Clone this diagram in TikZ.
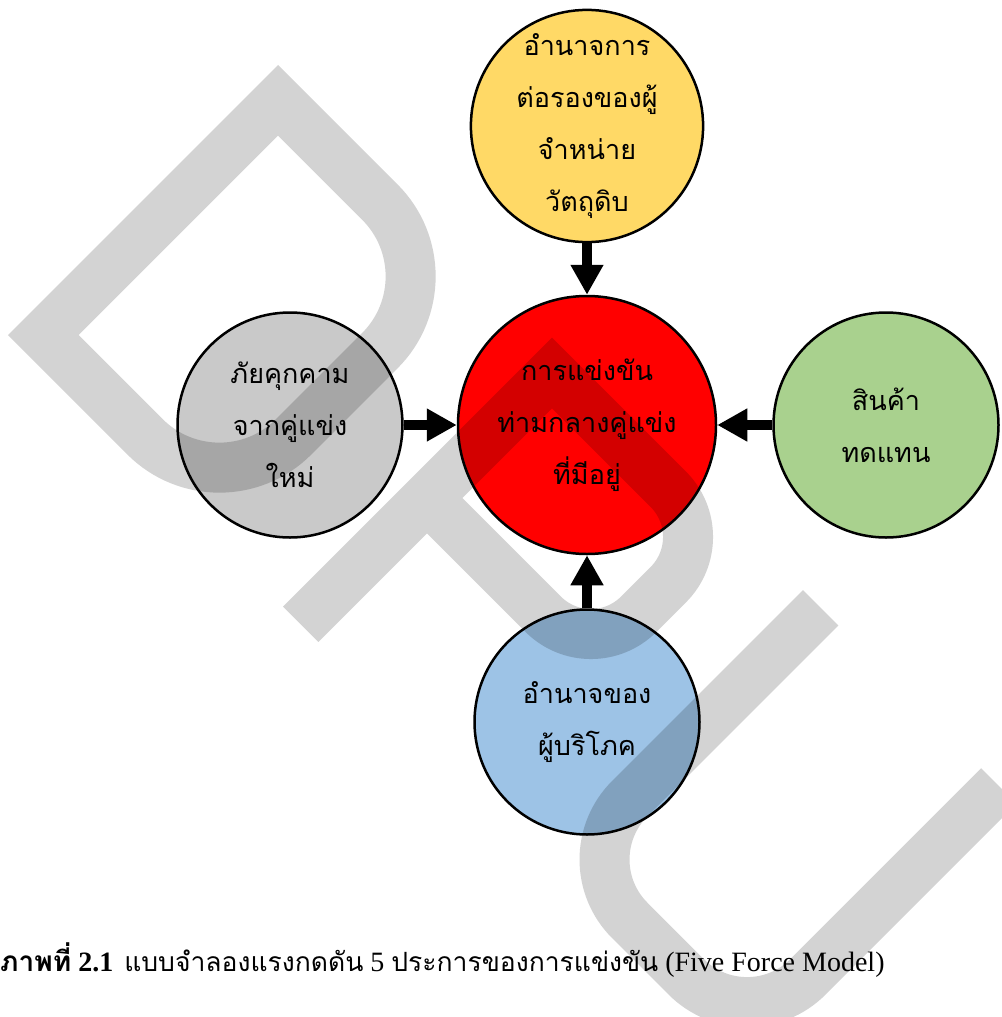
\documentclass[tikz,border=0pt]{standalone}
\usepackage{fontspec}
\setmainfont{Liberation Serif}
\newfontfamily\thai[Script=Thai]{Loma}
\usetikzlibrary{arrows.meta}

\definecolor{supplyfill}{HTML}{FFD966}
\definecolor{rivalfill}{HTML}{FF0000}
\definecolor{entrantfill}{HTML}{C9C9C9}
\definecolor{substfill}{HTML}{A9D18E}
\definecolor{buyerfill}{HTML}{9DC3E6}

\newcommand{\capthai}[1]{{\thai\fontsize{26.5}{34}\selectfont #1}}

\begin{document}
\begin{tikzpicture}[x=1pt, y=1pt,
  force/.style={circle, draw=black, line width=2.5pt, minimum size=225pt,
    inner sep=0pt, align=center, text=black,
    font=\thai\fontsize{27}{52}\selectfont},
  core/.style={force, minimum size=258pt},
  push/.style={draw=black, line width=10pt,
    -{Triangle[length=30pt, width=31pt]}},
  mark stroke/.style={draw=black, draw opacity=0.173, line width=50pt,
    line join=miter}
]
\useasboundingbox (0,0) rectangle (1001,-1017);

% the five forces
\node[force, fill=supplyfill]  (supplier)   at (587,-126)
  {อำนาจการ\\ต่อรองของผู้\\จำหน่าย\\วัตถุดิบ};
\node[core,  fill=rivalfill]   (rivalry)    at (587,-425)
  {การแข่งขัน\\ท่ามกลางคู่แข่ง\\ที่มีอยู่};
\node[force, fill=entrantfill] (entrant)    at (290,-425)
  {ภัยคุกคาม\\จากคู่แข่ง\\ใหม่};
\node[force, fill=substfill]   (substitute) at (886,-425)
  {สินค้า\\ทดแทน};
\node[force, fill=buyerfill]   (buyer)      at (587,-722)
  {อำนาจของ\\ผู้บริโภค};

% every force pushes on the rivalry in the middle
\draw[push] (supplier)   -- (rivalry);
\draw[push] (entrant)    -- (rivalry);
\draw[push] (substitute) -- (rivalry);
\draw[push] (buyer)      -- (rivalry);

% caption
\node[anchor=base west, inner sep=0pt, font=\fontsize{28}{34}\selectfont]
  (caption) at (0,-971)
  {{\thai\bfseries ภาพที่} {\bfseries 2.1}\hspace{11pt}\capthai{แบบจำลองแรงกดดัน} 5
   \capthai{ประการของการแข่งขัน} (Five Force Model)};

% translucent DPU letters laid over the chart
\begin{scope}[shift={(143,-200)}, rotate=-45]
  \draw[mark stroke] (25,166) -- (25,-166) -- (169,-166)
    arc[start angle=-90, end angle=0, radius=105] -- (274,61)
    arc[start angle=0, end angle=90, radius=105] -- cycle;
\end{scope}
\begin{scope}[shift={(489.5,-435.5)}, rotate=-45]
  \draw[mark stroke] (0,-267) -- (0,88.4) -- (164.4,88.4)
    arc[start angle=90, end angle=0, radius=67.5] -- (231.9,-20.9)
    arc[start angle=0, end angle=-90, radius=67.5] -- (0,-88.4);
\end{scope}
\begin{scope}[shift={(803.3,-803.3)}, rotate=-45]
  \draw[mark stroke] (-126,150.6) -- (-126,-119.5)
    arc[start angle=180, end angle=270, radius=86] -- (40,-205.5)
    arc[start angle=270, end angle=360, radius=86] -- (126,150.6);
\end{scope}
\end{tikzpicture}
\end{document}
